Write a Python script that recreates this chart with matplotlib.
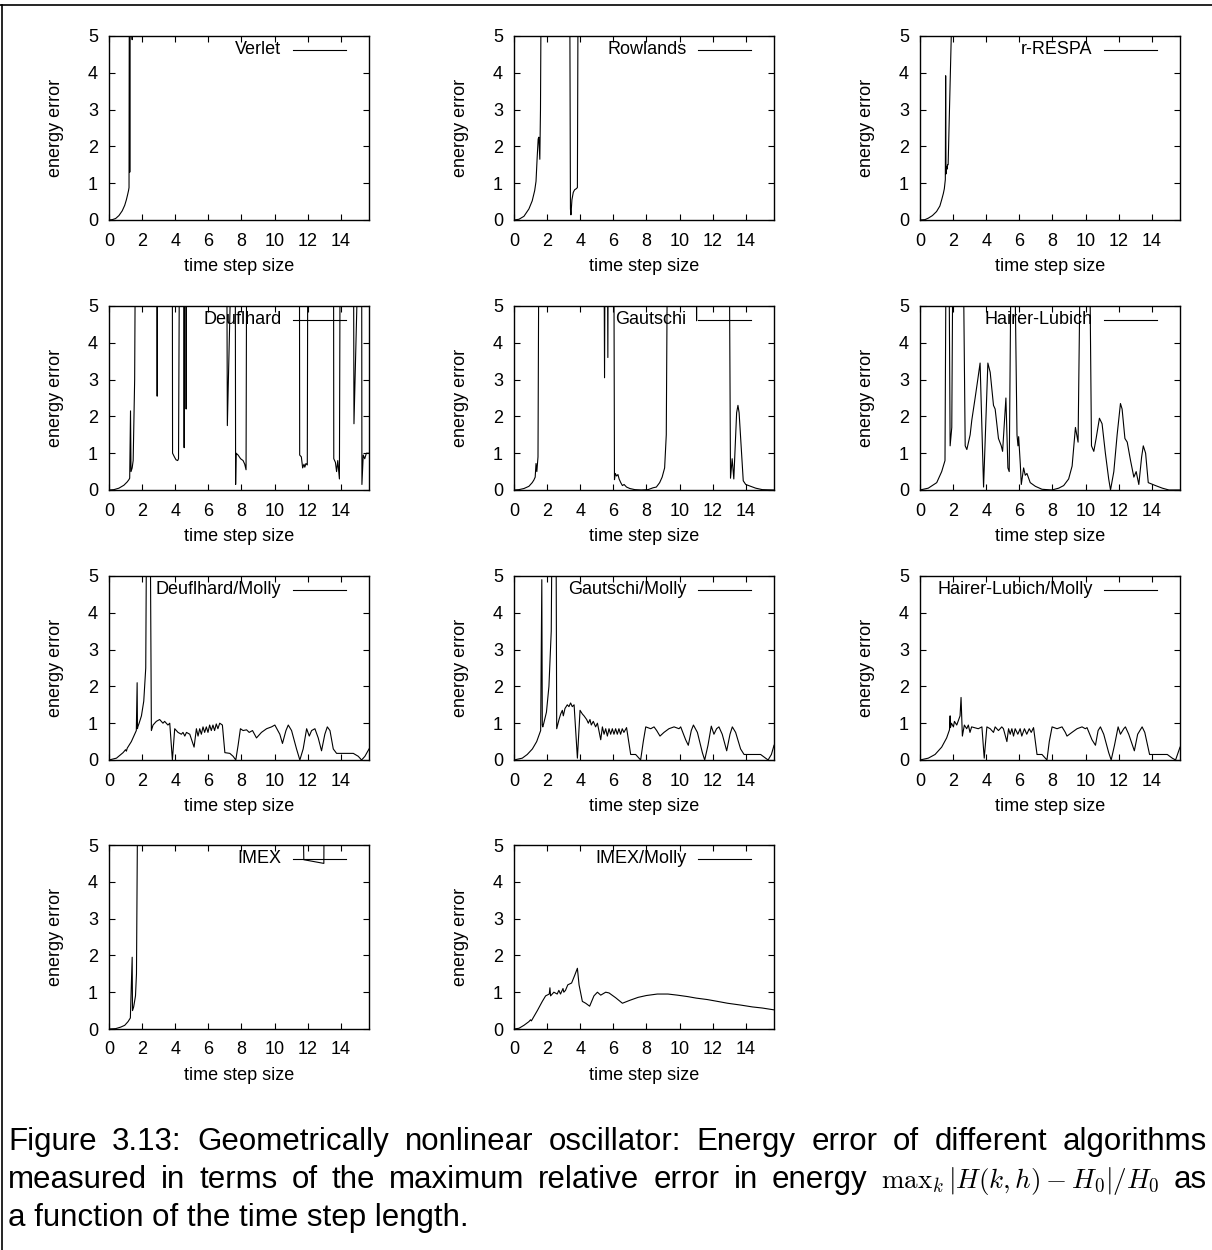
import matplotlib
matplotlib.use('Agg')
import matplotlib.pyplot as plt
from matplotlib.lines import Line2D
import numpy as np

plt.rcParams['font.family'] = ['Liberation Sans', 'DejaVu Sans']

W, H = 1212, 1250
TOP = 9.0  # errors far above the plotted range (clipped at 5)

# ---- energy error vs time step size, one pair of lists per integrator ----
verlet_h = [0, 0.2, 0.4, 0.6, 0.8, 0.95, 1.05, 1.12, 1.18, 1.21, 1.235, 1.255, 1.275, 1.38, 1.40, 1.42, 15.71]
verlet_e = [0, 0.01, 0.04, 0.12, 0.25, 0.4, 0.55, 0.68, 0.8, 0.88, TOP, 1.3, TOP, TOP, 4.9, TOP, TOP]

rowlands_h = [0, 0.3, 0.6, 0.9, 1.1, 1.25, 1.33, 1.40, 1.46, 1.50, 1.56, 1.60, 1.67,
              3.35, 3.41, 3.44, 3.50, 3.58, 3.66, 3.76, 3.83, 3.89, 15.71]
rowlands_e = [0, 0.02, 0.1, 0.3, 0.52, 0.8, 1.05, 1.7, 2.2, 2.25, 1.65, 3.0, TOP,
              TOP, 0.3, 0.14, 0.55, 0.75, 0.82, 0.85, 0.88, TOP, TOP]

respa_h = [0, 0.3, 0.5, 0.75, 1.0, 1.2, 1.31, 1.41, 1.47, 1.53, 1.55, 1.57, 1.61, 1.63, 1.66, 1.70, 1.90, 1.95, 15.71]
respa_e = [0, 0.01, 0.05, 0.12, 0.23, 0.38, 0.55, 0.72, 0.85, 1.1, 3.92, 1.25, 1.45, 1.38, 1.5, 1.5, 5.2, TOP, TOP]

deuf_h = [0, 0.3, 0.6, 0.9, 1.1, 1.2, 1.25, 1.30, 1.33, 1.40, 1.46, 1.55, 1.62,
          2.88, 2.91, 2.94, 3.82, 3.84, 3.95, 4.05, 4.15, 4.20, 4.28,
          4.52, 4.54, 4.56, 4.64, 4.66, 4.69, 7.10, 7.15, 7.32, 7.35,
          7.62, 7.65, 7.68, 7.80, 7.95, 8.10, 8.20, 8.28, 8.33,
          11.50, 11.52, 11.62, 11.70, 11.78, 11.83, 11.90, 11.98, 12.02,
          13.56, 13.58, 13.68, 13.75, 13.82, 13.92, 13.98,
          14.76, 14.80, 14.98, 15.02, 15.26, 15.28, 15.36, 15.45, 15.55, 15.71]
deuf_e = [0, 0.01, 0.05, 0.13, 0.22, 0.28, 0.32, 2.15, 0.5, 0.6, 0.8, 3.0, TOP,
          TOP, 2.55, TOP, TOP, 1.0, 0.9, 0.82, 0.8, 0.85, TOP,
          TOP, 1.15, TOP, TOP, 2.2, TOP, TOP, 1.75, 5.1, TOP,
          TOP, 0.15, 1.0, 0.95, 0.85, 0.8, 0.7, 0.55, TOP,
          TOP, 0.95, 0.9, 0.6, 0.7, 0.62, 0.72, 0.68, TOP,
          TOP, 0.85, 0.75, 0.5, 0.8, 0.3, TOP,
          TOP, 1.8, 5.1, TOP, TOP, 0.15, 0.95, 0.85, 1.0, 1.0]

gaut_h = [0, 0.3, 0.6, 0.9, 1.1, 1.2, 1.28, 1.33, 1.38, 1.45, 1.52,
          5.42, 5.47, 5.52, 5.62, 5.67, 5.71, 6.02, 6.07, 6.12, 6.20, 6.28, 6.35, 6.45, 6.55, 6.65,
          6.80, 7.00, 7.30, 7.70, 8.10, 8.40, 8.60, 8.80, 8.95, 9.10, 9.20, 9.30,
          11.00, 11.03, 11.06, 12.98, 13.08, 13.18, 13.28, 13.45, 13.53, 13.60, 13.85,
          14.00, 14.30, 14.60, 15.00, 15.71]
gaut_e = [0, 0.01, 0.04, 0.1, 0.2, 0.27, 0.35, 0.72, 0.5, 0.9, TOP,
          TOP, 3.05, TOP, TOP, 3.6, TOP, TOP, 0.28, 0.45, 0.38, 0.42, 0.3, 0.2, 0.12, 0.15,
          0.08, 0.04, 0.01, 0.0, 0.01, 0.06, 0.08, 0.2, 0.35, 0.6, 1.5, TOP,
          TOP, 4.6, TOP, TOP, 0.32, 0.85, 0.3, 2.1, 2.3, 2.1, 0.25,
          0.15, 0.1, 0.05, 0.01, 0.0]

hl_h = [0, 0.5, 1.01, 1.31, 1.51, 1.60, 1.72, 1.82, 1.92, 2.02, 2.56, 2.73, 2.83, 3.03, 3.13,
        3.33, 3.49, 3.63, 3.84, 4.10, 4.24, 4.44, 4.54, 4.74, 4.91, 4.99, 5.19, 5.31, 5.39,
        5.55, 5.65, 5.86, 5.92, 5.96, 6.06, 6.12, 6.26, 6.36, 6.46, 6.66, 6.97, 7.37, 7.97,
        8.38, 8.68, 8.98, 9.19, 9.39, 9.55, 9.75, 10.20, 10.36, 10.50, 10.64, 10.84, 11.00,
        11.20, 11.40, 11.51, 11.71, 11.91, 12.11, 12.21, 12.38, 12.52, 12.72, 12.92, 13.06,
        13.22, 13.39, 13.49, 13.63, 13.79, 14.23, 14.64, 15.04, 15.71]
hl_e = [0, 0.05, 0.2, 0.5, 0.8, TOP, TOP, 1.2, 1.7, TOP, TOP, 1.2, 1.1, 1.5, 1.9,
        2.5, 3.0, 3.45, 0.08, 3.45, 3.2, 2.3, 2.2, 1.4, 1.2, 1.05, 2.5, 0.6, 0.5,
        TOP, TOP, 1.5, 1.2, 1.45, 0.7, 0.15, 0.6, 0.4, 0.45, 0.2, 0.1, 0.02, 0.0,
        0.05, 0.12, 0.3, 0.65, 1.7, 1.3, TOP, TOP, 1.2, 1.05, 1.4, 1.95, 1.8,
        1.0, 0.3, 0.0, 0.5, 1.5, 2.35, 2.2, 1.4, 1.3, 0.8, 0.35, 0.5,
        0.15, 0.9, 1.2, 1.0, 0.2, 0.12, 0.05, 0.0, 0.0]

deufm_h = [0, 0.45, 0.85, 1.0, 1.05, 1.1, 1.35, 1.65, 1.70, 1.72, 1.74, 1.82, 1.96, 2.1, 2.22, 2.30,
           2.46, 2.56, 2.66, 2.86, 3.06, 3.26, 3.36, 3.56, 3.67, 3.83, 3.97, 4.07, 4.17, 4.37,
           4.47, 4.58, 4.68, 4.88, 5.14, 5.28, 5.38, 5.48, 5.58, 5.68, 5.78, 5.88, 5.98, 6.08,
           6.18, 6.28, 6.38, 6.48, 6.58, 6.69, 6.85, 7.00, 7.30, 7.50, 7.66, 7.80, 7.94,
           8.10, 8.31, 8.47, 8.67, 8.91, 9.21, 9.52, 9.82, 10.02, 10.32, 10.48, 10.69, 10.83,
           11.03, 11.33, 11.53, 11.73, 11.94, 12.10, 12.24, 12.44, 12.64, 12.84, 13.04, 13.19,
           13.35, 13.55, 13.75, 14.35, 14.76, 15.06, 15.26, 15.46, 15.71]
deufm_e = [0, 0.05, 0.2, 0.28, 0.24, 0.32, 0.5, 0.8, 2.1, 0.85, 0.9, 1.0, 1.2, 1.6, 2.5, TOP,
           TOP, 0.8, 0.95, 1.05, 1.1, 1.0, 1.05, 0.95, 1.0, 0.0, 0.85, 0.8, 0.75, 0.7,
           0.75, 0.65, 0.75, 0.7, 0.35, 0.85, 0.65, 0.85, 0.7, 0.9, 0.75, 0.9, 0.75, 0.95,
           0.8, 0.95, 0.8, 0.98, 0.85, 1.0, 0.95, 0.2, 0.18, 0.1, 0.0, 0.4, 0.85,
           0.8, 0.82, 0.75, 0.8, 0.6, 0.75, 0.85, 0.9, 0.95, 0.7, 0.45, 0.8, 0.95,
           0.8, 0.3, 0.0, 0.3, 0.85, 0.65, 0.8, 0.85, 0.6, 0.25, 0.7, 0.9,
           0.8, 0.3, 0.18, 0.18, 0.18, 0.1, 0.0, 0.1, 0.3]

gautm_h = [0, 0.5, 0.8, 1.11, 1.37, 1.61, 1.68, 1.71, 1.74, 1.80, 1.96, 2.11, 2.25, 2.34,
           2.52, 2.58, 2.72, 2.82, 2.92, 2.98, 3.08, 3.22, 3.32, 3.42, 3.52, 3.63, 3.83, 3.99,
           4.13, 4.23, 4.39, 4.49, 4.59, 4.67, 4.79, 4.93, 5.04, 5.24, 5.34, 5.44, 5.54, 5.64,
           5.74, 5.84, 5.94, 6.04, 6.14, 6.24, 6.34, 6.44, 6.54, 6.64, 6.80, 7.05, 7.35, 7.65,
           7.81, 7.96, 8.26, 8.46, 8.62, 8.82, 9.06, 9.36, 9.67, 9.97, 10.07, 10.37, 10.53,
           10.71, 10.84, 11.08, 11.38, 11.52, 11.72, 11.92, 12.08, 12.24, 12.38, 12.58, 12.85,
           13.05, 13.19, 13.39, 13.69, 13.90, 14.90, 15.20, 15.35, 15.55, 15.71]
gautm_e = [0, 0.05, 0.15, 0.3, 0.5, 0.8, 4.9, 0.95, 0.9, 1.0, 1.3, 2.0, 3.5, TOP,
           TOP, 0.85, 1.1, 1.25, 1.35, 1.2, 1.4, 1.5, 1.45, 1.55, 1.45, 1.5, 0.05, 1.35,
           1.25, 1.2, 1.1, 1.0, 1.1, 0.95, 1.05, 0.9, 1.0, 0.55, 0.9, 0.7, 0.85, 0.65,
           0.85, 0.7, 0.85, 0.7, 0.85, 0.7, 0.85, 0.7, 0.85, 0.75, 0.88, 0.15, 0.15, 0.0,
           0.5, 0.9, 0.85, 0.9, 0.8, 0.65, 0.75, 0.85, 0.9, 0.85, 0.9, 0.55, 0.4,
           0.8, 0.95, 0.75, 0.2, 0.0, 0.4, 0.92, 0.7, 0.85, 0.9, 0.7, 0.25,
           0.7, 0.9, 0.75, 0.3, 0.15, 0.15, 0.05, 0.0, 0.15, 0.4]

hlm_h = [0, 0.5, 0.91, 1.31, 1.61, 1.78, 1.82, 1.84, 1.90, 2.02, 2.08, 2.22, 2.42, 2.48, 2.56,
         2.68, 2.82, 2.92, 3.02, 3.12, 3.52, 3.74, 3.88, 4.04, 4.24, 4.44, 4.54, 4.74, 4.94,
         5.04, 5.25, 5.35, 5.45, 5.55, 5.65, 5.75, 5.91, 6.05, 6.15, 6.31, 6.45, 6.60, 6.72,
         6.86, 7.07, 7.37, 7.67, 7.81, 7.98, 8.28, 8.58, 8.78, 8.88, 9.18, 9.49, 9.79, 9.99,
         10.09, 10.39, 10.60, 10.76, 10.90, 11.10, 11.40, 11.55, 11.75, 11.97, 12.11, 12.31,
         12.41, 12.61, 12.95, 13.15, 13.42, 13.58, 13.87, 14.94, 15.24, 15.44, 15.71]
hlm_e = [0, 0.05, 0.15, 0.35, 0.6, 0.82, 1.2, 0.88, 1.0, 0.9, 1.05, 0.95, 1.2, 1.7, 0.65,
         0.95, 0.85, 0.95, 0.75, 0.9, 0.85, 0.9, 0.05, 0.9, 0.85, 0.75, 0.9, 0.8, 0.9,
         0.85, 0.5, 0.85, 0.7, 0.85, 0.65, 0.85, 0.7, 0.85, 0.65, 0.85, 0.7, 0.85, 0.75,
         0.88, 0.15, 0.15, 0.0, 0.5, 0.9, 0.85, 0.9, 0.75, 0.65, 0.75, 0.85, 0.9, 0.85,
         0.88, 0.55, 0.4, 0.8, 0.9, 0.7, 0.2, 0.0, 0.4, 0.9, 0.7, 0.85,
         0.9, 0.7, 0.25, 0.7, 0.9, 0.75, 0.15, 0.15, 0.05, 0.0, 0.35]

imex_h = [0, 0.4, 0.7, 0.95, 1.15, 1.29, 1.40, 1.42, 1.49, 1.60, 1.66, 1.77, 11.60, 11.77, 12.98, 13.03, 15.71]
imex_e = [0, 0.01, 0.05, 0.1, 0.2, 0.3, 1.95, 0.5, 0.6, 0.9, 1.5, TOP, TOP, 4.6, 4.5, TOP, TOP]

imexm_h = [0, 0.3, 0.6, 0.9, 1.0, 1.05, 1.41, 1.71, 1.91, 2.13, 2.17, 2.21, 2.41, 2.61, 2.71, 2.81,
           2.96, 3.01, 3.11, 3.25, 3.48, 3.66, 3.83, 3.93, 4.13, 4.33, 4.57, 4.83, 5.04, 5.24,
           5.54, 5.74, 6.14, 6.55, 7.0, 7.5, 8.0, 8.66, 9.3, 9.87, 10.5, 11.0, 11.68, 12.3,
           12.9, 13.7, 14.4, 15.0, 15.71]
imexm_e = [0, 0.02, 0.1, 0.2, 0.25, 0.22, 0.5, 0.75, 0.9, 0.95, 1.12, 0.9, 1.0, 0.95, 1.05, 0.95,
           1.1, 1.0, 1.05, 1.2, 1.25, 1.45, 1.65, 1.2, 0.75, 0.7, 0.62, 0.9, 1.0, 0.92,
           1.0, 0.98, 0.85, 0.7, 0.78, 0.86, 0.91, 0.95, 0.95, 0.92, 0.88, 0.84, 0.8, 0.75,
           0.7, 0.65, 0.6, 0.57, 0.52]

panels = [
    ("Verlet", verlet_h, verlet_e),
    ("Rowlands", rowlands_h, rowlands_e),
    ("r-RESPA", respa_h, respa_e),
    ("Deuflhard", deuf_h, deuf_e),
    ("Gautschi", gaut_h, gaut_e),
    ("Hairer-Lubich", hl_h, hl_e),
    ("Deuflhard/Molly", deufm_h, deufm_e),
    ("Gautschi/Molly", gautm_h, gautm_e),
    ("Hairer-Lubich/Molly", hlm_h, hlm_e),
    ("IMEX", imex_h, imex_e),
    ("IMEX/Molly", imexm_h, imexm_e),
]

fig = plt.figure(figsize=(W / 100, H / 100), dpi=100)

col_left = [109, 514, 920]
row_top = [36, 306, 576, 845]
aw, ah = 260, 184

for i, (name, h, e) in enumerate(panels):
    r, c = divmod(i, 3)
    ax = fig.add_axes([col_left[c] / W, 1 - (row_top[r] + ah) / H, aw / W, ah / H])
    ax.plot(h, e, color='black', lw=0.8)
    # gnuplot-style key in the upper right corner
    ax.text(0.663, 0.924, name, transform=ax.transAxes, ha='right', va='center', fontsize=13)
    ax.add_line(Line2D([0.708, 0.913], [0.924, 0.924], transform=ax.transAxes, color='black', lw=0.8))
    ax.set_xlim(0, 5 * np.pi)
    ax.set_ylim(0, 5)
    ax.set_xticks(range(0, 15, 2))
    ax.set_yticks(range(6))
    ax.tick_params(direction='in', top=True, right=True, length=4, width=0.8, labelsize=13)
    ax.tick_params(axis='y', pad=8)
    ax.tick_params(axis='x', pad=9)
    for s in ax.spines.values():
        s.set_linewidth(1.0)
    ax.set_xlabel('time step size', fontsize=13)
    ax.set_ylabel('energy error', fontsize=13)
    ax.xaxis.set_label_coords(0.5, -0.207)
    ax.yaxis.set_label_coords(-0.173, 0.5)

# page frame
fig.add_artist(Line2D([0, 1], [1 - 4.5 / H, 1 - 4.5 / H], transform=fig.transFigure, color='black', lw=1.2))
fig.add_artist(Line2D([2 / W, 2 / W], [0, 1 - 4.5 / H], transform=fig.transFigure, color='black', lw=1.2))

# caption, first two lines justified
renderer = fig.canvas.get_renderer()
cap_size = 22.5


def justified(words, y_px, x0=8, x1=1207):
    texts = []
    for w in words:
        size = 19.5 if w.startswith('$') else cap_size
        texts.append(fig.text(0, 1 - y_px / H, w, fontsize=size, va='baseline', math_fontfamily='cm'))
    widths = [t.get_window_extent(renderer).width for t in texts]
    gap = (x1 - x0 - sum(widths)) / (len(words) - 1)
    x = x0
    for t, wd in zip(texts, widths):
        t.set_x(x / W)
        x += wd + gap


justified("Figure 3.13: Geometrically nonlinear oscillator: Energy error of different algorithms".split(), 1150)
justified("measured in terms of the maximum relative error in energy".split()
          + [r"$\mathrm{max}_k\,|H(k,h)-H_0|/H_0$", "as"], 1188)
fig.text(8 / W, 1 - 1226 / H, "a function of the time step length.", fontsize=cap_size, va='baseline')

fig.savefig('out.png', dpi=100)
